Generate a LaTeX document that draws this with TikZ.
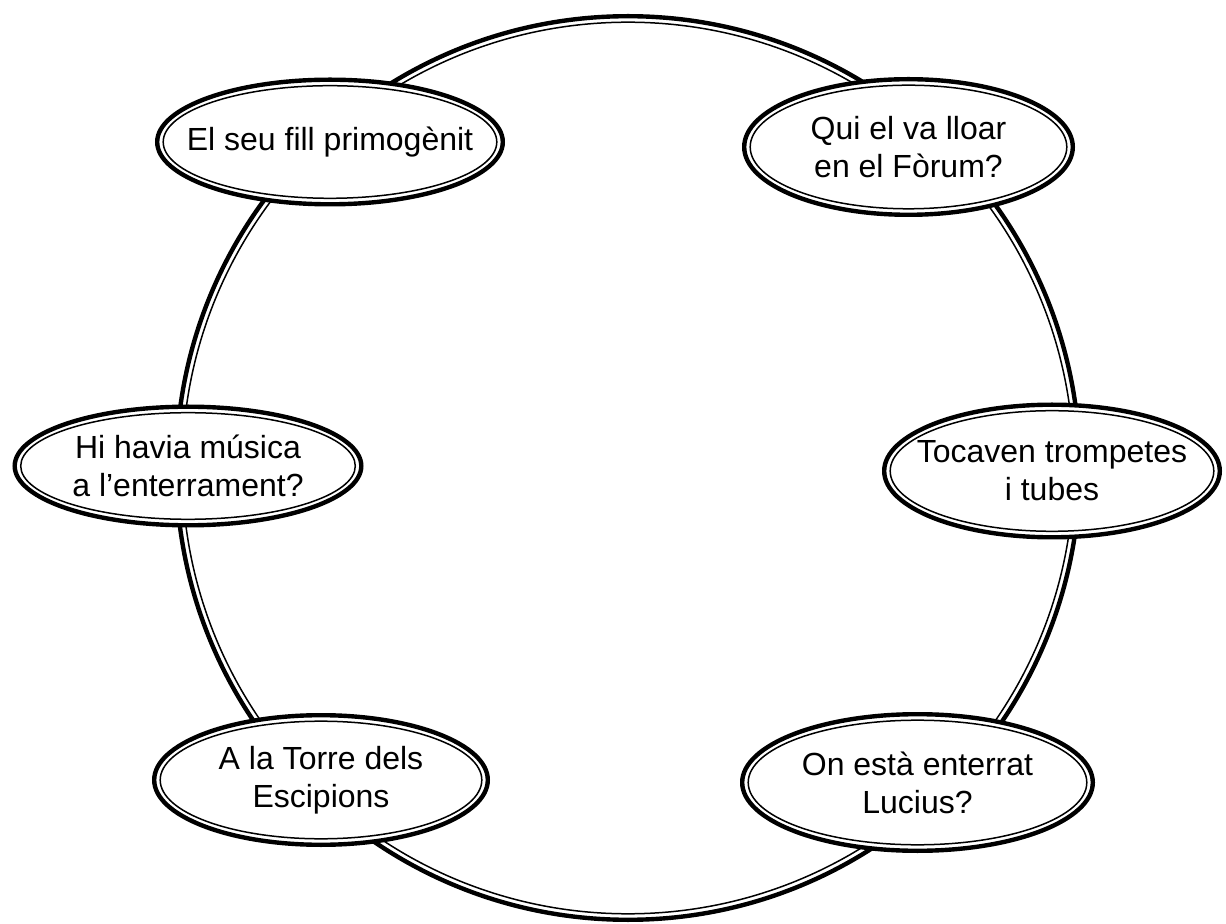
\documentclass[tikz,border=0pt]{standalone}
\usepackage{fontspec}
\setmainfont{Liberation Sans}
\usetikzlibrary{shapes.geometric, calc}

\begin{document}
\begin{tikzpicture}[x=0.5pt, y=-0.5pt, line width=2.2pt,
  bubble/.style={ellipse, draw, fill=white, inner xsep=-14pt, inner ysep=0pt,
    align=center, font=\fontsize{16}{19}\selectfont,
    path picture={\draw[line width=0.75pt]
      let \p1=($(path picture bounding box.north east)-(path picture bounding box.center)$) in
      (path picture bounding box.center) ellipse [x radius=\x1-3pt, y radius=\y1-3pt];}}]
  \useasboundingbox (0,0) rectangle (1226,924);
  % ring
  \coordinate (centre) at (628,468);
  \draw (centre) circle[radius=451.8];
  \draw[line width=0.75pt] (centre) circle[radius=445.8];
  % bubbles
  \node[bubble, minimum width=172.8pt, minimum height=62.3pt] (fill) at (330,142) {El seu fill primogènit};
  \node[bubble, minimum width=164.3pt, minimum height=67.8pt] (forum) at (908.5,147) {Qui el va lloar\\en el Fòrum?};
  \node[bubble, minimum width=173.3pt, minimum height=59.3pt] (musica) at (188,466) {Hi havia música\\a l’enterrament?};
  \node[bubble, minimum width=167.8pt, minimum height=66.3pt] (trompetes) at (1052,471) {Tocaven trompetes\\i tubes};
  \node[bubble, minimum width=166.8pt, minimum height=64.8pt] (torre) at (321,780) {A la Torre dels\\Escipions};
  \node[bubble, minimum width=175.3pt, minimum height=68.3pt] (lucius) at (917.5,782.5) {On està enterrat\\Lucius?};
\end{tikzpicture}
\end{document}
